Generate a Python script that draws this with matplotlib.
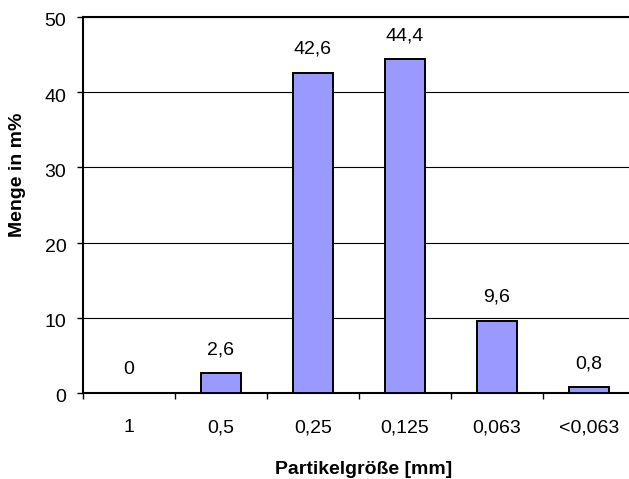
import matplotlib
matplotlib.use("Agg")
import matplotlib.pyplot as plt
from matplotlib.transforms import ScaledTranslation

categories = ["1", "0,5", "0,25", "0,125", "0,063", "<0,063"]
values = [0, 2.6, 42.6, 44.4, 9.6, 0.8]
value_labels = ["0", "2,6", "42,6", "44,4", "9,6", "0,8"]
y_ticks = [0, 10, 20, 30, 40, 50]

plt.rcParams['font.family'] = ['Liberation Sans', 'DejaVu Sans']

W, H = 629, 479
fig = plt.figure(figsize=(W / 100, H / 100), dpi=100)
left, right, top, bottom = 83, 635, 17, 393
ax = fig.add_axes([left / W, 1 - bottom / H, (right - left) / W, (bottom - top) / H])

x = list(range(len(categories)))
ax.bar(x, values, width=0.43, color="#9999FF", edgecolor="black", linewidth=1.4, zorder=3)

ax.set_xlim(-0.5, len(categories) - 0.5)
ax.set_ylim(0, 50)
ax.set_yticks(y_ticks)
ax.set_yticklabels([str(t) for t in y_ticks], fontsize=14)
ax.yaxis.grid(True, color="black", linewidth=0.8, zorder=0)
ax.set_axisbelow(True)

# major ticks at category boundaries, labels at centers
ax.set_xticks([i + 0.5 for i in range(len(categories) - 1)] + [-0.5])
ax.set_xticklabels([])
ax.set_xticks(x, minor=True)
ax.set_xticklabels(categories, minor=True, fontsize=14)
ax.tick_params(axis='x', which='minor', length=0, pad=19)
ax.tick_params(axis='x', which='major', length=4, width=1, direction='out')
ax.tick_params(axis='y', length=4, width=1, direction='out', pad=8)

ax.spines["right"].set_visible(False)
for s in ["top", "left", "bottom"]:
    ax.spines[s].set_linewidth(1.5)

for xi, v, lab in zip(x, values, value_labels):
    ax.annotate(lab, (xi, v), xytext=(0, 16.8), textcoords="offset points",
                ha="center", va="center", fontsize=14)

ax.set_ylabel("Menge in m%", fontsize=14, fontweight="bold")
ax.yaxis.set_label_coords(-((left - 18) / (right - left)), (bottom - 175) / (bottom - top))
ax.set_xlabel("Partikelgröße [mm]", fontsize=14, fontweight="bold")
ax.xaxis.set_label_coords((364 - left) / (right - left), -(470 - bottom) / (bottom - top))
ax.xaxis.label.set_va("center")
ax.yaxis.label.set_va("center")

shift = ScaledTranslation(0, -3 / 100, fig.dpi_scale_trans)
for lbl in ax.get_yticklabels():
    lbl.set_transform(lbl.get_transform() + shift)

fig.savefig("out.png", dpi=100)
